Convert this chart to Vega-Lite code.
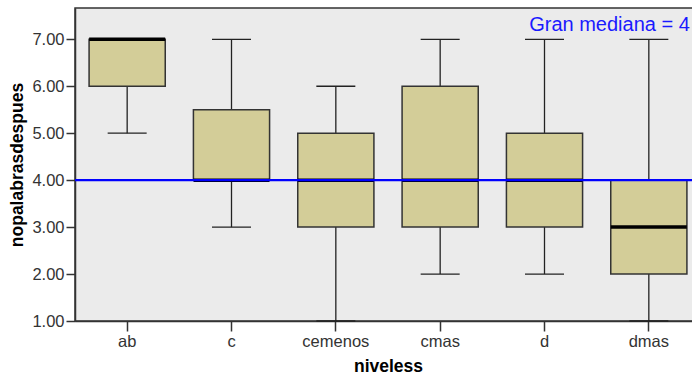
{
  "$schema": "https://vega.github.io/schema/vega-lite/v6.json",
  "width": 626,
  "height": 313,
  "autosize": {"type": "none"},
  "padding": {"left": 75, "top": 8, "right": 0, "bottom": 58},
  "background": "white",
  "config": {
    "font": "Liberation Sans",
    "view": {"fill": "#EBEBEB", "stroke": "#333333", "strokeWidth": 1.5},
    "axis": {
      "domainColor": "#333333",
      "domainWidth": 1.5,
      "tickColor": "#333333",
      "tickWidth": 1.5,
      "grid": false,
      "labelFont": "Liberation Sans",
      "labelFontSize": 16.5,
      "labelColor": "#333333",
      "titleFont": "Liberation Sans",
      "titleFontSize": 17.5,
      "titleFontWeight": "bold",
      "titleColor": "#000000"
    }
  },
  "data": {
    "values": [
      {"niveless": "ab", "lower": 5, "q1": 6, "median": 7, "q3": 7, "upper": 7},
      {"niveless": "c", "lower": 3, "q1": 4, "median": 4, "q3": 5.5, "upper": 7},
      {"niveless": "cemenos", "lower": 1, "q1": 3, "median": 4, "q3": 5, "upper": 6},
      {"niveless": "cmas", "lower": 2, "q1": 3, "median": 4, "q3": 6, "upper": 7},
      {"niveless": "d", "lower": 2, "q1": 3, "median": 4, "q3": 5, "upper": 7},
      {"niveless": "dmas", "lower": 1, "q1": 2, "median": 3, "q3": 4, "upper": 7}
    ]
  },
  "encoding": {
    "x": {
      "field": "niveless",
      "type": "nominal",
      "sort": ["ab", "c", "cemenos", "cmas", "d", "dmas"],
      "scale": {"paddingInner": 0, "paddingOuter": 0},
      "axis": {"labelAngle": 0, "tickSize": 10, "labelPadding": 2, "titlePadding": 8, "title": "niveless"}
    }
  },
  "layer": [
    {
      "mark": {"type": "rule", "color": "#222222", "strokeWidth": 1.3},
      "encoding": {
        "y": {
          "field": "lower",
          "type": "quantitative",
          "scale": {"domain": [1, 7.667], "nice": false, "zero": false},
          "axis": {"values": [1, 2, 3, 4, 5, 6, 7], "format": ".2f", "tickSize": 9, "labelPadding": 2, "titlePadding": 5, "title": "nopalabrasdespues"}
        },
        "y2": {"field": "upper"}
      }
    },
    {
      "mark": {"type": "tick", "color": "#222222", "size": 39, "thickness": 1.3, "opacity": 1},
      "encoding": {"y": {"field": "lower", "type": "quantitative"}}
    },
    {
      "mark": {"type": "tick", "color": "#222222", "size": 39, "thickness": 1.3, "opacity": 1},
      "encoding": {"y": {"field": "upper", "type": "quantitative"}}
    },
    {
      "mark": {"type": "bar", "width": {"band": 0.73}, "fill": "#D3CD98", "stroke": "#333333", "strokeWidth": 1.5},
      "encoding": {
        "y": {"field": "q1", "type": "quantitative"},
        "y2": {"field": "q3"}
      }
    },
    {
      "mark": {"type": "tick", "color": "#000000", "size": 76, "thickness": 3.5, "opacity": 1},
      "encoding": {"y": {"field": "median", "type": "quantitative"}}
    },
    {
      "data": {"values": [{"gm": 4}]},
      "mark": {"type": "rule", "color": "#0000FF", "strokeWidth": 2.2},
      "encoding": {"x": null, "y": {"field": "gm", "type": "quantitative"}}
    },
    {
      "data": {"values": [{"niveless": "dmas", "ypos": 7.17, "label": "Gran mediana = 4"}]},
      "mark": {"type": "text", "align": "right", "baseline": "alphabetic", "dx": 41, "fontSize": 20, "color": "#1A1AFF", "font": "Liberation Sans"},
      "encoding": {
        "y": {"field": "ypos", "type": "quantitative"},
        "text": {"field": "label"}
      }
    }
  ]
}
